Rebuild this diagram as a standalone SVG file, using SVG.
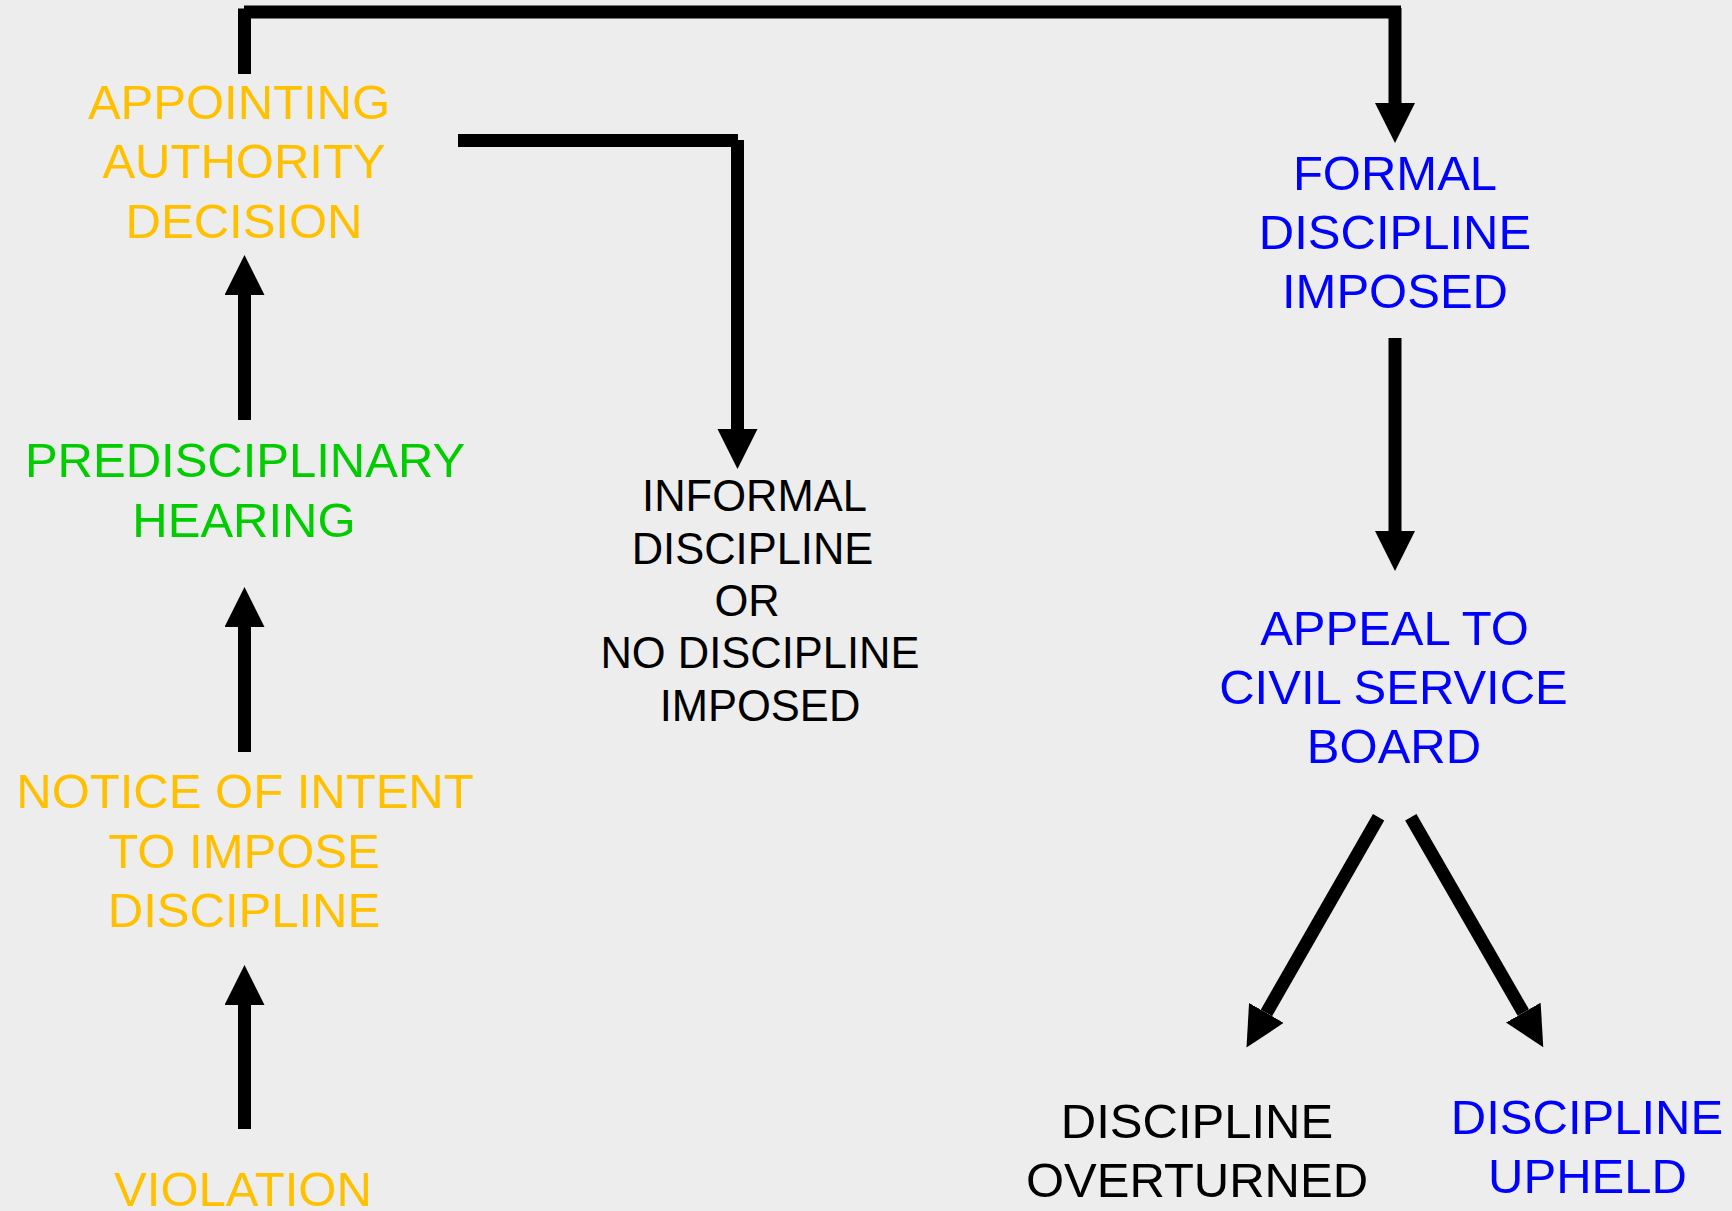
<svg xmlns="http://www.w3.org/2000/svg" width="1732" height="1211" viewBox="0 0 1732 1211">
<defs>
<style>
text{font-family:"Liberation Sans",Arial,sans-serif;font-size:49px;text-anchor:middle}
.y{fill:#FFC000}.g{fill:#00CC00}.b{fill:#0000FF}.k{fill:#000000}
.s{font-size:43.5px}
.c{stroke:#000;stroke-width:13;fill:none;stroke-linecap:butt}
</style>
<marker id="ah" markerUnits="userSpaceOnUse" markerWidth="41" markerHeight="41" refX="0" refY="20" orient="auto" viewBox="0 0 41 41">
<path d="M0,0 L40,20 L0,40 Z" fill="#000"/>
</marker>
</defs>
<rect width="1732" height="1211" fill="#EDEDED"/>
<g id="connectors">
<line class="c" x1="244.5" y1="74" x2="244.5" y2="8.5"/>
<line class="c" x1="244" y1="12" x2="1401" y2="12"/>
<line class="c" x1="1395" y1="8" x2="1395" y2="103" marker-end="url(#ah)"/>
<line class="c" x1="458" y1="140.5" x2="738" y2="140.5"/>
<line class="c" x1="737.5" y1="140" x2="737.5" y2="429" marker-end="url(#ah)"/>
<line class="c" x1="244.5" y1="420" x2="244.5" y2="295" marker-end="url(#ah)"/>
<line class="c" x1="244.5" y1="752" x2="244.5" y2="627" marker-end="url(#ah)"/>
<line class="c" x1="244.5" y1="1129" x2="244.5" y2="1005" marker-end="url(#ah)"/>
<line class="c" x1="1395" y1="338" x2="1395" y2="531" marker-end="url(#ah)"/>
<line class="c" x1="1378.6" y1="817.3" x2="1266.4" y2="1012.9" marker-end="url(#ah)"/>
<line class="c" x1="1410.8" y1="817.3" x2="1523.3" y2="1012.6" marker-end="url(#ah)"/>
</g>
<g id="appointing">
<text class="y" x="239" y="118.5">APPOINTING</text>
<text class="y" x="244" y="178">AUTHORITY</text>
<text class="y" x="244" y="237.5">DECISION</text>
</g>
<g id="prediscipline">
<text class="g" x="245" y="477">PREDISCIPLINARY</text>
<text class="g" x="244" y="536.5">HEARING</text>
</g>
<g id="notice">
<text class="y" x="245" y="808">NOTICE OF INTENT</text>
<text class="y" x="244" y="868">TO IMPOSE</text>
<text class="y" x="244" y="927">DISCIPLINE</text>
</g>
<g id="violation">
<text class="y" x="243" y="1205.5">VIOLATION</text>
</g>
<g id="informal">
<text class="k s" x="754.5" y="511">INFORMAL</text>
<text class="k s" x="752.5" y="563.5">DISCIPLINE</text>
<text class="k s" x="747" y="616">OR</text>
<text class="k s" x="760" y="668">NO DISCIPLINE</text>
<text class="k s" x="760" y="721">IMPOSED</text>
</g>
<g id="formal">
<text class="b" x="1395" y="189.5">FORMAL</text>
<text class="b" x="1395" y="248.5">DISCIPLINE</text>
<text class="b" x="1395" y="307.5">IMPOSED</text>
</g>
<g id="appeal">
<text class="b" x="1394.5" y="644.5">APPEAL TO</text>
<text class="b" x="1393.5" y="703.5">CIVIL SERVICE</text>
<text class="b" x="1394" y="762.5">BOARD</text>
</g>
<g id="overturned">
<text class="k" x="1197" y="1138">DISCIPLINE</text>
<text class="k" x="1197" y="1197">OVERTURNED</text>
</g>
<g id="upheld">
<text class="b" x="1587" y="1134">DISCIPLINE</text>
<text class="b" x="1587.5" y="1193">UPHELD</text>
</g>
</svg>
